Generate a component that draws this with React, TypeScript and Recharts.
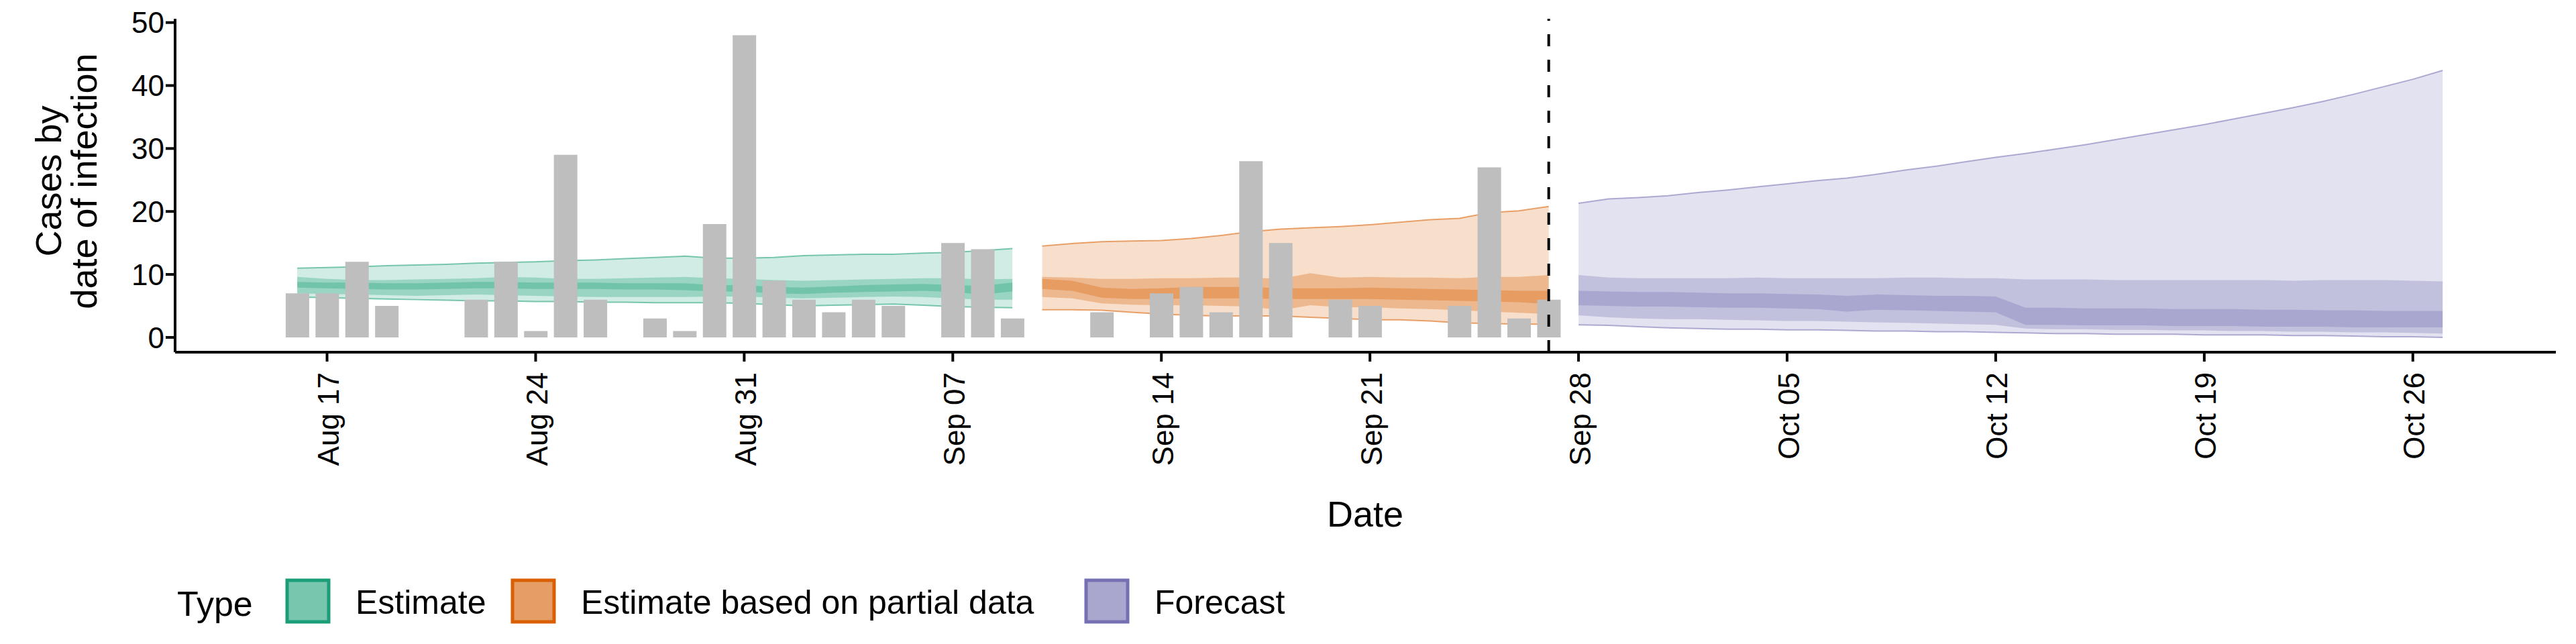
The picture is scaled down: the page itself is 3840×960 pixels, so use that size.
import { Area, Bar, ComposedChart, ReferenceLine, XAxis, YAxis } from 'recharts';

// day 0 = Aug 17
const START_DAY = -1; // Aug 16
const TICK_DAYS = [0, 7, 14, 21, 28, 35, 42, 49, 56, 63, 70];
const TICK_LABELS = ['Aug 17', 'Aug 24', 'Aug 31', 'Sep 07', 'Sep 14', 'Sep 21', 'Sep 28', 'Oct 05', 'Oct 12', 'Oct 19', 'Oct 26'];

// Aug 16 .. Sep 27
const cases = [7, 7, 12, 5, 0, 0, 6, 12, 1, 29, 6, 0, 3, 1, 18, 48, 9, 6, 4, 6, 5, 0, 15, 14, 3, 0, 0, 4, 0, 7, 8, 4, 28, 15, 0, 6, 5, 0, 0, 5, 27, 3, 6];

// Estimate: Aug 16 .. Sep 09
const estU90 = [11.0, 11.1, 11.2, 11.4, 11.5, 11.6, 11.8, 11.9, 12.0, 12.2, 12.3, 12.5, 12.7, 12.9, 12.6, 12.6, 12.7, 13.0, 13.1, 13.2, 13.2, 13.4, 13.5, 13.8, 14.1];
const estU50 = [9.6, 9.3, 9.1, 9.1, 9.2, 9.3, 9.4, 9.6, 9.5, 9.3, 9.3, 9.4, 9.5, 9.6, 9.4, 9.3, 9.1, 9.0, 9.1, 9.2, 9.3, 9.4, 9.4, 9.2, 9.3];
const estU20 = [8.8, 8.7, 8.7, 8.6, 8.6, 8.7, 8.8, 8.8, 8.7, 8.7, 8.7, 8.6, 8.6, 8.6, 8.3, 8.3, 8.0, 7.9, 8.1, 8.3, 8.4, 8.5, 8.3, 8.2, 8.7];
const estL20 = [7.9, 7.8, 7.7, 7.6, 7.6, 7.7, 7.8, 7.8, 7.7, 7.7, 7.7, 7.6, 7.6, 7.5, 7.3, 7.3, 7.0, 6.9, 7.1, 7.2, 7.3, 7.4, 7.2, 6.8, 7.3];
const estL50 = [7.0, 6.9, 6.8, 6.7, 6.6, 6.7, 6.8, 6.7, 6.6, 6.5, 6.4, 6.4, 6.4, 6.4, 6.5, 6.5, 6.3, 6.2, 6.3, 6.4, 6.5, 6.4, 6.2, 6.0, 6.0];
const estL90 = [6.4, 6.3, 6.2, 6.1, 6.0, 5.9, 5.8, 5.8, 5.7, 5.7, 5.6, 5.6, 5.5, 5.5, 5.5, 5.4, 5.2, 5.0, 5.1, 5.2, 5.3, 5.1, 4.9, 4.8, 4.7];

// Estimate based on partial data: Sep 10 .. Sep 27
const parU90 = [14.5, 14.9, 15.2, 15.3, 15.4, 15.7, 16.2, 16.8, 17.2, 17.4, 17.6, 17.9, 18.3, 18.7, 18.9, 19.8, 20.1, 20.8];
const parU50 = [9.6, 9.5, 9.3, 9.3, 9.4, 9.4, 9.5, 9.5, 9.3, 10.2, 9.5, 9.6, 9.5, 9.5, 9.4, 9.6, 9.6, 9.9];
const parU20 = [9.3, 9.0, 7.9, 7.7, 7.8, 8.0, 8.0, 8.0, 7.8, 7.8, 7.8, 7.9, 7.8, 7.7, 7.6, 7.5, 7.4, 7.4];
const parL20 = [7.7, 7.4, 6.3, 6.1, 6.1, 6.2, 6.2, 6.2, 6.1, 6.1, 6.1, 6.1, 6.0, 5.9, 5.8, 5.7, 5.6, 5.3];
const parL50 = [6.4, 6.2, 5.4, 5.2, 5.1, 5.1, 5.0, 4.9, 4.3, 5.1, 4.8, 4.8, 4.6, 4.5, 4.3, 4.1, 3.9, 3.7];
const parL90 = [4.4, 4.4, 4.3, 4.0, 3.7, 3.5, 3.4, 3.4, 3.4, 3.2, 3.0, 2.8, 2.8, 2.6, 2.3, 2.2, 2.1, 2.1];

// Forecast: Sep 28 .. Oct 27
const fcU90 = [21.3, 22.0, 22.2, 22.5, 23.0, 23.4, 23.9, 24.4, 24.9, 25.3, 25.9, 26.6, 27.2, 27.9, 28.6, 29.2, 29.9, 30.6, 31.4, 32.2, 33.0, 33.8, 34.7, 35.6, 36.5, 37.5, 38.6, 39.8, 41.0, 42.4];
const fcU50 = [9.9, 9.5, 9.4, 9.4, 9.4, 9.4, 9.5, 9.4, 9.4, 9.4, 9.4, 9.5, 9.5, 9.4, 9.4, 9.2, 9.2, 9.2, 9.1, 9.1, 9.1, 9.1, 9.1, 9.1, 9.0, 9.1, 9.1, 9.1, 9.0, 8.9];
const fcU20 = [7.4, 7.3, 7.2, 7.2, 7.1, 7.0, 7.0, 6.9, 6.8, 6.6, 6.8, 6.7, 6.6, 6.6, 6.5, 4.7, 4.7, 4.6, 4.6, 4.6, 4.5, 4.5, 4.5, 4.4, 4.4, 4.3, 4.3, 4.2, 4.2, 4.2];
const fcL20 = [5.1, 5.0, 4.9, 4.9, 4.8, 4.7, 4.7, 4.6, 4.5, 4.1, 4.4, 4.3, 4.2, 4.1, 4.0, 2.0, 2.0, 1.9, 1.9, 1.9, 1.8, 1.8, 1.8, 1.7, 1.7, 1.7, 1.6, 1.6, 1.6, 1.6];
const fcL50 = [3.5, 3.2, 3.0, 2.9, 2.9, 2.8, 2.7, 2.6, 2.6, 2.5, 2.4, 2.3, 2.2, 2.1, 2.0, 1.4, 1.3, 1.3, 1.2, 1.2, 1.1, 1.1, 1.0, 1.0, 0.9, 0.9, 0.8, 0.8, 0.7, 0.6];
const fcL90 = [2.0, 1.9, 1.7, 1.5, 1.4, 1.3, 1.3, 1.2, 1.2, 1.1, 1.0, 1.0, 0.9, 0.9, 0.8, 0.7, 0.6, 0.6, 0.5, 0.5, 0.5, 0.4, 0.4, 0.4, 0.3, 0.3, 0.2, 0.1, 0.1, 0.0];

const SEGMENTS = [
  { key: 'est', offset: 0, color: '#1B9E77', key_fill: '#78C6AD', label: 'Estimate', u90: estU90, u50: estU50, u20: estU20, l20: estL20, l50: estL50, l90: estL90 },
  { key: 'par', offset: 25, color: '#D95F02', key_fill: '#E59E65', label: 'Estimate based on partial data', u90: parU90, u50: parU50, u20: parU20, l20: parL20, l50: parL50, l90: parL90 },
  { key: 'fc', offset: 43, color: '#7570B3', key_fill: '#AAA7CE', label: 'Forecast', u90: fcU90, u50: fcU50, u20: fcU20, l20: fcL20, l50: fcL50, l90: fcL90 },
];

const rows: any[] = Array.from({ length: 73 }, (_, i) => ({ day: START_DAY + i, cases: cases[i] ? cases[i] : null }));
SEGMENTS.forEach((s) => {
  s.u90.forEach((_, j) => {
    const r = rows[s.offset + j];
    r[s.key + '90'] = [s.l90[j], s.u90[j]];
    r[s.key + '50'] = [s.l50[j], s.u50[j]];
    r[s.key + '20'] = [s.l20[j], s.u20[j]];
  });
});

const FONT = '"Liberation Sans", Arial, sans-serif';

function DateTick({ x, y, payload }: any) {
  const i = TICK_DAYS.indexOf(payload.value);
  return (
    <text
      transform={`translate(${x + 2},${y + 14}) rotate(-90)`}
      textAnchor="end"
      dominantBaseline="central"
      fontSize={44}
      fontFamily={FONT}
      fill="#000"
    >
      {TICK_LABELS[i]}
    </text>
  );
}

export default function App() {
  return (
    <div style={{ position: 'absolute', left: 0, top: 0, width: 3840, height: 960, background: '#fff', fontFamily: FONT }}>
      <ComposedChart width={3840} height={960} data={rows} margin={{ top: 28, right: 30, left: 0, bottom: 0 }} barGap={0}>
        <XAxis
          dataKey="day"
          type="number"
          domain={[-5.1, 74.8]}
          ticks={TICK_DAYS}
          tick={<DateTick />}
          height={435}
          tickSize={14}
          interval={0}
          stroke="#000"
          strokeWidth={4}
          tickLine={{ stroke: '#000', strokeWidth: 4 }}
        />
        <YAxis
          type="number"
          domain={[-2.35, 50.6]}
          ticks={[0, 10, 20, 30, 40, 50]}
          width={261}
          tickSize={14}
          stroke="#000"
          strokeWidth={4}
          tickLine={{ stroke: '#000', strokeWidth: 4 }}
          tick={{ fill: '#000', fontSize: 44, fontFamily: FONT }}
          allowDataOverflow
        />
        <Bar dataKey="cases" fill="#BEBEBE" barSize={35} isAnimationActive={false} />
        {SEGMENTS.map((s) => [
          <Area key={s.key + '90'} dataKey={s.key + '90'} type="linear" fill={s.color} fillOpacity={0.2} stroke={s.color} strokeOpacity={0.55} strokeWidth={2} dot={false} activeDot={false} isAnimationActive={false} />,
          <Area key={s.key + '50'} dataKey={s.key + '50'} type="linear" fill={s.color} fillOpacity={0.3} stroke="none" dot={false} activeDot={false} isAnimationActive={false} />,
          <Area key={s.key + '20'} dataKey={s.key + '20'} type="linear" fill={s.color} fillOpacity={0.32} stroke="none" dot={false} activeDot={false} isAnimationActive={false} />,
        ])}
        <ReferenceLine x={41} stroke="#000" strokeWidth={4} strokeDasharray="18 20" />
      </ComposedChart>
      <svg width={3840} height={960} style={{ position: 'absolute', left: 0, top: 0, pointerEvents: 'none' }} fontFamily={FONT}>
        <text transform="translate(72,270) rotate(-90)" textAnchor="middle" dominantBaseline="central" fontSize={54}>Cases by</text>
        <text transform="translate(125,270) rotate(-90)" textAnchor="middle" dominantBaseline="central" fontSize={54}>date of infection</text>
        <text x={2035} y={766} textAnchor="middle" dominantBaseline="central" fontSize={54}>Date</text>
        <text x={264} y={900} dominantBaseline="central" fontSize={52}>Type</text>
        {SEGMENTS.map((s, i) => {
          const sx = [428, 764, 1619][i];
          return (
            <g key={s.key}>
              <rect x={sx} y={865} width={62} height={62} fill={s.key_fill} stroke={s.color} strokeWidth={5} />
              <text x={sx + 102} y={898} dominantBaseline="central" fontSize={50}>{s.label}</text>
            </g>
          );
        })}
      </svg>
    </div>
  );
}
